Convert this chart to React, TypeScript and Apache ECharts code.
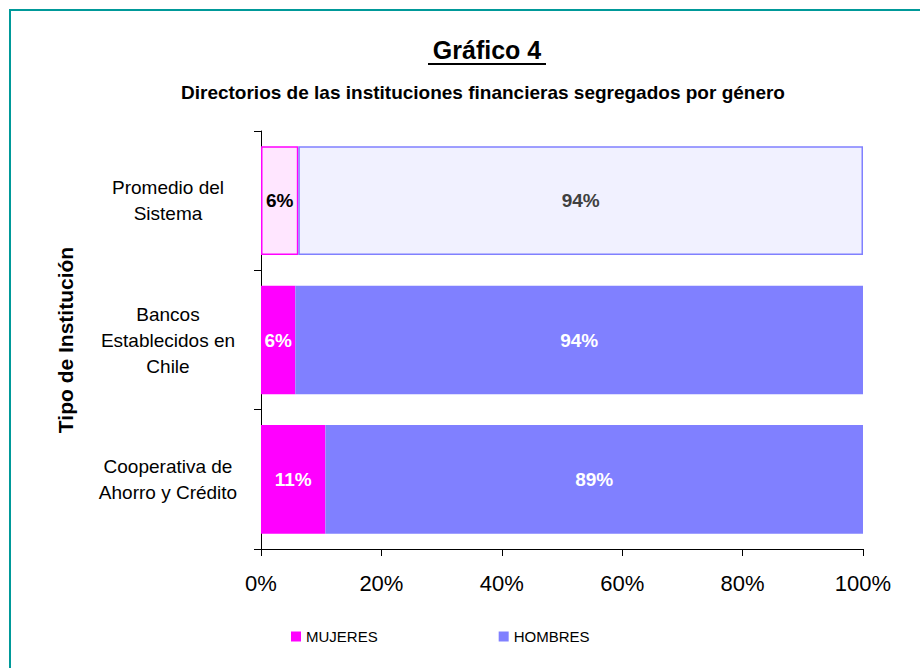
import React, { useEffect, useRef } from "react";
import * as echarts from "echarts";

const categories = [
  "Cooperativa de\nAhorro y Crédito",
  "Bancos\nEstablecidos en\nChile",
  "Promedio del\nSistema",
];
const mujeres = [10.7, 5.7, 6.2];
const hombres = [89.3, 94.3, 93.8];
const xTicks = [0, 20, 40, 60, 80, 100];
const seriesNames = ["MUJERES", "HOMBRES"];

const FONT = "'Liberation Sans', Arial, sans-serif";

export default function App() {
  const ref = useRef<HTMLDivElement>(null);
  useEffect(() => {
    if (!ref.current) return;
    const chart = echarts.init(ref.current, null, { renderer: "svg" });
    const lastIdx = categories.length - 1;
    const mujData = mujeres.map((v, i) =>
      i === lastIdx
        ? {
            value: v,
            itemStyle: { color: "#ffe6ff", borderColor: "#ff00ff", borderWidth: 1.5 },
            label: { color: "#000000" },
          }
        : { value: v }
    );
    const homData = hombres.map((v, i) =>
      i === lastIdx
        ? {
            value: v,
            itemStyle: { color: "#f1f1ff", borderColor: "#8080ff", borderWidth: 1.5 },
            label: { color: "#404040" },
          }
        : { value: v }
    );
    const labelCfg = {
      show: true,
      position: "inside",
      color: "#ffffff",
      fontFamily: FONT,
      fontWeight: "bold",
      fontSize: 19,
      formatter: (p: any) => Math.round(p.value) + "%",
    };
    chart.setOption({
      animation: false,
      backgroundColor: "#ffffff",
      textStyle: { fontFamily: FONT },
      grid: { left: 261, right: 57, top: 131, bottom: 119, containLabel: false },
      legend: {
        data: seriesNames,
        left: 286,
        top: 624,
        icon: "rect",
        itemWidth: 10,
        itemHeight: 10,
        itemGap: 121,
        textStyle: { fontFamily: FONT, fontSize: 15, color: "#000" },
      },
      xAxis: {
        type: "value",
        min: xTicks[0],
        max: xTicks[xTicks.length - 1],
        interval: 20,
        axisLine: { show: true, lineStyle: { color: "#000", width: 1 } },
        axisTick: { show: true, length: 7, lineStyle: { color: "#000" } },
        splitLine: { show: false },
        axisLabel: {
          formatter: "{value}%",
          fontSize: 22,
          color: "#000",
          margin: 23,
          fontFamily: FONT,
        },
      },
      yAxis: {
        type: "category",
        data: categories,
        axisLine: { show: true, lineStyle: { color: "#000", width: 1 } },
        axisTick: { show: true, length: 7, lineStyle: { color: "#000" } },
        axisLabel: {
          align: "center",
          margin: 93,
          fontSize: 19,
          lineHeight: 26,
          color: "#000",
          fontFamily: FONT,
        },
        name: "Tipo de Institución",
        nameLocation: "middle",
        nameRotate: 90,
        nameGap: 185,
        nameTextStyle: { fontSize: 21, fontWeight: "bold", color: "#000", fontFamily: FONT },
      },
      series: [
        {
          name: seriesNames[0],
          type: "bar",
          stack: "total",
          barCategoryGap: "22%",
          data: mujData,
          itemStyle: { color: "#ff00ff" },
          label: labelCfg,
        },
        {
          name: seriesNames[1],
          type: "bar",
          stack: "total",
          barCategoryGap: "22%",
          data: homData,
          itemStyle: { color: "#8080ff" },
          label: labelCfg,
        },
      ],
      graphic: [
        {
          type: "rect",
          z: -10,
          shape: { x: 10, y: 10, width: 1000, height: 1000 },
          style: { fill: "none", stroke: "#009999", lineWidth: 2 },
        },
        {
          type: "text",
          x: 487,
          y: 50,
          style: {
            text: "Gráfico 4",
            align: "center",
            verticalAlign: "middle",
            font: "bold 25px 'Liberation Sans', Arial, sans-serif",
            fill: "#000",
          },
        },
        {
          type: "line",
          shape: { x1: 428, y1: 64, x2: 546, y2: 64 },
          style: { stroke: "#000", lineWidth: 2 },
        },
        {
          type: "text",
          x: 483,
          y: 92,
          style: {
            text: "Directorios de las instituciones financieras segregados por género",
            align: "center",
            verticalAlign: "middle",
            font: "bold 19px 'Liberation Sans', Arial, sans-serif",
            fill: "#000",
          },
        },
      ],
    });
    return () => chart.dispose();
  }, []);
  return (
    <div
      ref={ref}
      style={{ position: "fixed", left: 0, top: 0, width: 920, height: 668, background: "#fff" }}
    />
  );
}
